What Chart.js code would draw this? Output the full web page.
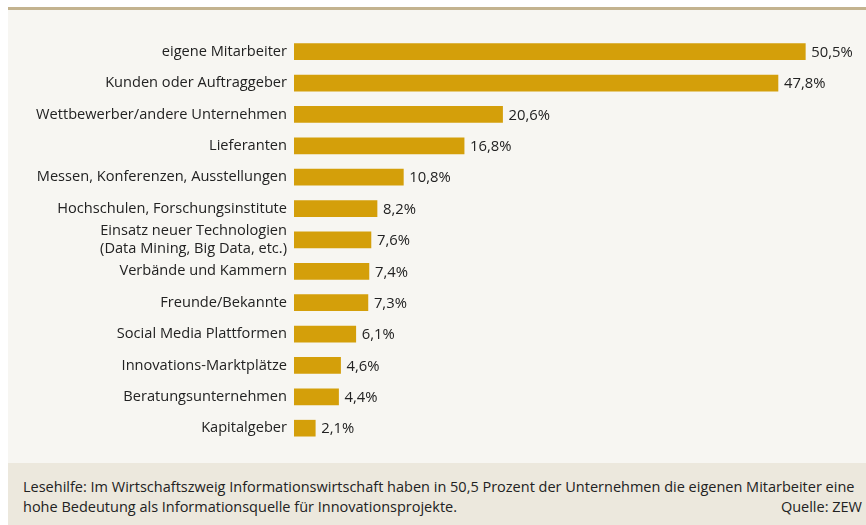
<!DOCTYPE html>
<html lang="de">
<head>
<meta charset="utf-8">
<script src="https://cdn.jsdelivr.net/npm/chart.js@4"></script>
<style>
    html, body { margin: 0; padding: 0; background: #ffffff; }
    body { width: 866px; height: 525px; position: relative; overflow: hidden; font-family: "Open Sans", "Noto Sans", sans-serif; }
    .panel { position: absolute; left: 8px; top: 7px; right: 0; bottom: 0; background: #f7f6f2; border-top: 3px solid #c3b38f; }
    .chart-wrap { position: absolute; left: 0; top: 0; width: 866px; height: 460px; }
    .note { position: absolute; left: 8px; right: 0; top: 463px; bottom: 0; background: #ece8dd; color: #222; font-size: 14.5px; line-height: 20px; padding: 14px 4px 0 15px; box-sizing: border-box; white-space: nowrap; }
    .note .src { position: absolute; right: 4px; top: 34px; }
</style>
</head>
<body>
<div class="panel"></div>
<div class="chart-wrap"><canvas id="chartSources" width="866" height="460"></canvas></div>
<div class="note">
    Lesehilfe: Im Wirtschaftszweig Informationswirtschaft haben in 50,5 Prozent der Unternehmen die eigenen Mitarbeiter eine<br>
    hohe Bedeutung als Informationsquelle für Innovationsprojekte.
    <span class="src">Quelle: ZEW</span>
</div>
<script>
const sourceLabels = [
    'eigene Mitarbeiter',
    'Kunden oder Auftraggeber',
    'Wettbewerber/andere Unternehmen',
    'Lieferanten',
    'Messen, Konferenzen, Ausstellungen',
    'Hochschulen, Forschungsinstitute',
    ['Einsatz neuer Technologien', '(Data Mining, Big Data, etc.)'],
    'Verbände und Kammern',
    'Freunde/Bekannte',
    'Social Media Plattformen',
    'Innovations-Marktplätze',
    'Beratungsunternehmen',
    'Kapitalgeber'
];
const sourceValues = [50.5, 47.8, 20.6, 16.8, 10.8, 8.2, 7.6, 7.4, 7.3, 6.1, 4.6, 4.4, 2.1];

const barColor = '#d49f0a';
const textColor = '#222222';
const labelFont = { family: '"Open Sans", "Noto Sans", sans-serif', size: 14.6, lineHeight: 1.25 };

// Draw the percentage next to each bar end.
const valueLabels = {
    id: 'valueLabels',
    afterDatasetsDraw(chart) {
        const ctx = chart.ctx;
        const meta = chart.getDatasetMeta(0);
        ctx.save();
        ctx.fillStyle = textColor;
        ctx.font = `14.8px ${labelFont.family}`;
        ctx.textAlign = 'left';
        ctx.textBaseline = 'middle';
        meta.data.forEach((bar, index) => {
            const text = sourceValues[index].toFixed(1).replace('.', ',') + '%';
            ctx.fillText(text, bar.x + 6, bar.y + 1);
        });
        ctx.restore();
    }
};

document.addEventListener('DOMContentLoaded', () => {
    const ctx = document.getElementById('chartSources');
    new Chart(ctx, {
        type: 'bar',
        data: {
            labels: sourceLabels,
            datasets: [{
                label: 'Informationsquellen',
                data: sourceValues,
                backgroundColor: barColor,
                barThickness: 16,
                borderWidth: 0
            }]
        },
        options: {
            indexAxis: 'y',
            responsive: false,
            animation: false,
            layout: { padding: { top: 36, bottom: 13, right: 5, left: 0 } },
            plugins: {
                legend: { display: false },
                tooltip: { enabled: false }
            },
            scales: {
                x: { display: false, min: 0, max: 56 },
                y: {
                    afterFit(scale) { scale.width = 294; },
                    grid: { display: false, drawTicks: false },
                    border: { display: false },
                    ticks: {
                        color: textColor,
                        font: labelFont,
                        padding: 7,
                        autoSkip: false
                    }
                }
            }
        },
        plugins: [valueLabels]
    });
});
</script>
</body>
</html>
